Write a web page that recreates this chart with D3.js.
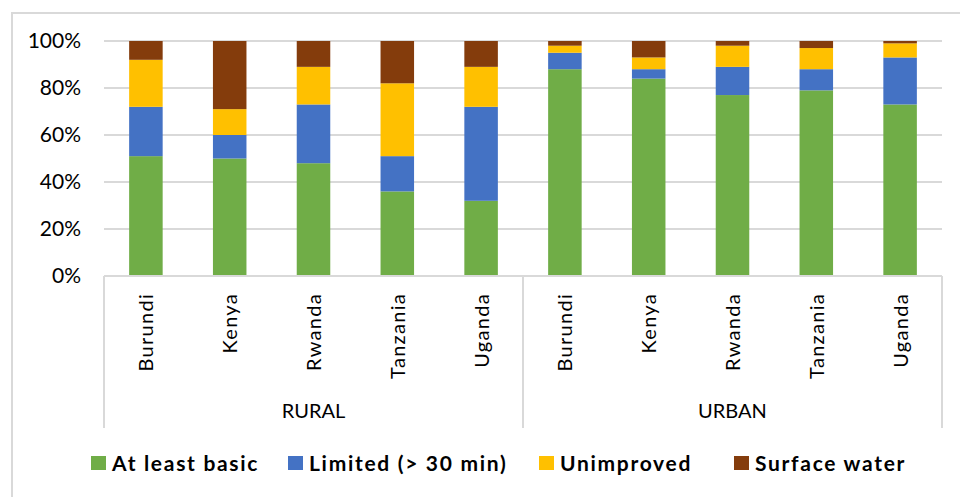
<!DOCTYPE html>
<html>
<head>
<meta charset="utf-8">
<script src="https://cdn.jsdelivr.net/npm/d3@7"></script>
<style>
  html, body { margin: 0; padding: 0; background: #fff; }
  svg { display: block; }
</style>
</head>
<body>
<svg id="chart" width="960" height="497"></svg>
<script>
// Access to drinking water by setting and country (share of population)
const groups = ["RURAL", "URBAN"];
const countries = ["Burundi", "Kenya", "Rwanda", "Tanzania", "Uganda"];
const seriesNames = ["At least basic", "Limited (> 30 min)", "Unimproved", "Surface water"];
const seriesColors = ["#70AD47", "#4472C4", "#FFC000", "#843C0C"];

// Values per series, in order: rural countries then urban countries
const atLeastBasic = [51, 50, 48, 36, 32, 88, 84, 77, 79, 73];
const limited      = [21, 10, 25, 15, 40,  7,  4, 12,  9, 20];
const unimproved   = [20, 11, 16, 31, 17,  3,  5,  9,  9,  6];
const surfaceWater = [ 8, 29, 11, 18, 11,  2,  7,  2,  3,  1];

const yTicks = [0, 20, 40, 60, 80, 100];

const rows = [];
groups.forEach((g, gi) => countries.forEach((c, ci) => {
  const i = gi * countries.length + ci;
  rows.push({
    key: g + "|" + c, group: g, country: c,
    [seriesNames[0]]: atLeastBasic[i],
    [seriesNames[1]]: limited[i],
    [seriesNames[2]]: unimproved[i],
    [seriesNames[3]]: surfaceWater[i]
  });
}));

const svg = d3.select("#chart");
const font = "Lato, 'Liberation Sans', sans-serif";

// outer chart frame
svg.append("rect")
  .attr("x", 12).attr("y", 13).attr("width", 960).attr("height", 500)
  .attr("fill", "none").attr("stroke", "#D9D9D9").attr("stroke-width", 2);

const plot = { left: 104, right: 942, top: 41, bottom: 276 };

const x = d3.scaleBand()
  .domain(rows.map(d => d.key))
  .range([plot.left, plot.right])
  .paddingInner(0.6)
  .paddingOuter(0.3);

const y = d3.scaleLinear().domain([0, 100]).range([plot.bottom, plot.top]);

// gridlines
svg.append("g")
  .selectAll("line")
  .data(yTicks)
  .join("line")
  .attr("x1", plot.left).attr("x2", plot.right)
  .attr("y1", d => y(d)).attr("y2", d => y(d))
  .attr("stroke", "#D9D9D9").attr("stroke-width", 2);

// y axis labels
const yAxis = svg.append("g")
  .attr("transform", `translate(${plot.left},0)`)
  .call(d3.axisLeft(y).tickValues(yTicks).tickFormat(d => d + "%").tickSize(0).tickPadding(23));
yAxis.select(".domain").remove();
yAxis.selectAll("text")
  .attr("font-family", font).attr("font-size", 21).attr("fill", "#000");

// stacked bars
const stack = d3.stack().keys(seriesNames);
const stacked = stack(rows);

svg.append("g")
  .selectAll("g")
  .data(stacked)
  .join("g")
  .attr("fill", (d, i) => seriesColors[i])
  .selectAll("rect")
  .data(d => d)
  .join("rect")
  .attr("x", d => x(d.data.key))
  .attr("width", x.bandwidth())
  .attr("y", d => y(d[1]))
  .attr("height", d => y(d[0]) - y(d[1]));

// multi-level category axis
const axisBottom = 428;
const axisG = svg.append("g");
axisG.append("line")
  .attr("x1", plot.left).attr("x2", plot.right)
  .attr("y1", plot.bottom).attr("y2", plot.bottom)
  .attr("stroke", "#D9D9D9").attr("stroke-width", 2);

const groupEdges = groups.map((g, gi) => {
  const first = rows[gi * countries.length].key;
  const last = rows[gi * countries.length + countries.length - 1].key;
  return {
    group: g,
    x0: gi === 0 ? plot.left : x(first) - x.step() * x.paddingInner() / 2,
    x1: gi === groups.length - 1 ? plot.right : x(last) + x.bandwidth() + x.step() * x.paddingInner() / 2
  };
});

const dividers = [plot.left, ...groupEdges.slice(0, -1).map(e => e.x1), plot.right];
axisG.selectAll("line.div")
  .data(dividers)
  .join("line")
  .attr("class", "div")
  .attr("x1", d => d).attr("x2", d => d)
  .attr("y1", plot.bottom).attr("y2", axisBottom)
  .attr("stroke", "#D9D9D9").attr("stroke-width", 2);

// country labels, rotated
axisG.selectAll("text.country")
  .data(rows)
  .join("text")
  .attr("class", "country")
  .attr("transform", d => `translate(${x(d.key) + x.bandwidth() / 2 + 7.5},293) rotate(-90)`)
  .attr("text-anchor", "end")
  .attr("font-family", font).attr("font-size", 20)
  .attr("letter-spacing", 1.3)
  .attr("fill", "#000")
  .text(d => d.country);

// group labels
axisG.selectAll("text.group")
  .data(groupEdges)
  .join("text")
  .attr("class", "group")
  .attr("x", d => (d.x0 + d.x1) / 2)
  .attr("y", 418)
  .attr("text-anchor", "middle")
  .attr("font-family", font).attr("font-size", 20)
  .attr("fill", "#000")
  .text(d => d.group);

// legend
const legendX = [91, 288, 539, 734];
const legend = svg.append("g")
  .selectAll("g")
  .data(seriesNames)
  .join("g")
  .attr("transform", (d, i) => `translate(${legendX[i]},463)`);
legend.append("rect")
  .attr("x", 0).attr("y", -7).attr("width", 15).attr("height", 14)
  .attr("fill", (d, i) => seriesColors[i]);
legend.append("text")
  .attr("x", 21).attr("y", 8)
  .attr("font-family", font).attr("font-size", 21).attr("font-weight", "bold")
  .attr("letter-spacing", 1.7)
  .attr("fill", "#000")
  .text(d => d);
</script>
</body>
</html>
